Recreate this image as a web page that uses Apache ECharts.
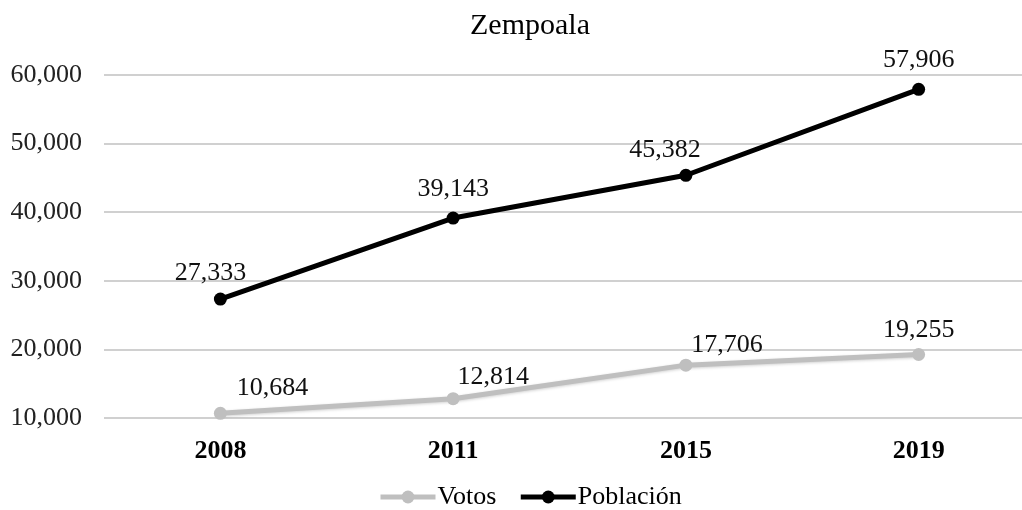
<!DOCTYPE html>
<html>
<head>
<meta charset="utf-8">
<script src="https://cdn.jsdelivr.net/npm/echarts@6/dist/echarts.min.js"></script>
<style>
html, body { margin: 0; padding: 0; background: #fff; overflow: hidden; }
#chart { width: 1040px; height: 510px; }
</style>
</head>
<body>
<div id="chart"></div>
<script>
var years = ['2008', '2011', '2015', '2019'];
var votos = [10684, 12814, 17706, 19255];
var poblacion = [27333, 39143, 45382, 57906];

var font = '"Liberation Serif", "Times New Roman", serif';
var fmt = function (v) { return v.toLocaleString('en-US'); };

// label nudges, same order as the years
var votosOffsets = [[52, 1], [40, 5], [41, 7], [0, 2]];
var poblacionOffsets = [[-10, 1], [0, -2], [-21, 1], [0, -3]];

function withOffsets(values, offsets) {
    return values.map(function (v, i) {
        return { value: v, label: { offset: offsets[i] } };
    });
}

var chart = echarts.init(document.getElementById('chart'));
chart.setOption({
    animation: false,
    textStyle: { fontFamily: font },
    title: {
        text: 'Zempoala',
        left: 465,
        top: 6,
        textStyle: { fontFamily: font, fontSize: 30, fontWeight: 'normal', color: '#000' }
    },
    legend: {
        left: 373,
        bottom: -5,
        itemWidth: 55,
        itemHeight: 16,
        itemGap: 22,
        lineStyle: { width: 5 },
        textStyle: { fontFamily: font, fontSize: 26, color: '#000', padding: [0, 0, 0, -3] },
        data: ['Votos', 'Población']
    },
    grid: { left: 104, width: 931, top: 75, height: 343 },
    xAxis: {
        type: 'category',
        data: years,
        axisLine: { show: false },
        axisTick: { show: false },
        axisLabel: { fontFamily: font, fontSize: 26, fontWeight: 'bold', color: '#000', margin: 20 }
    },
    yAxis: {
        type: 'value',
        min: 10000,
        max: 60000,
        interval: 10000,
        axisLine: { show: false },
        axisTick: { show: false },
        axisLabel: { fontFamily: font, fontSize: 26, color: '#222', margin: 22, formatter: fmt },
        splitLine: { lineStyle: { color: '#d0d0d0', width: 2 } }
    },
    series: [
        {
            name: 'Votos',
            type: 'line',
            data: withOffsets(votos, votosOffsets),
            symbol: 'circle',
            symbolSize: 13,
            itemStyle: { color: '#bfbfbf' },
            lineStyle: {
                color: '#bfbfbf', width: 5,
                shadowColor: 'rgba(0,0,0,0.18)', shadowBlur: 3, shadowOffsetY: 1
            },
            label: {
                show: true,
                position: 'top',
                distance: 7,
                fontFamily: font,
                fontSize: 26,
                color: '#111',
                formatter: function (p) { return fmt(p.value); }
            }
        },
        {
            name: 'Población',
            type: 'line',
            data: withOffsets(poblacion, poblacionOffsets),
            symbol: 'circle',
            symbolSize: 13,
            itemStyle: { color: '#000' },
            lineStyle: { color: '#000', width: 5 },
            label: {
                show: true,
                position: 'top',
                distance: 7,
                fontFamily: font,
                fontSize: 26,
                color: '#111',
                formatter: function (p) { return fmt(p.value); }
            }
        }
    ]
});
</script>
</body>
</html>
